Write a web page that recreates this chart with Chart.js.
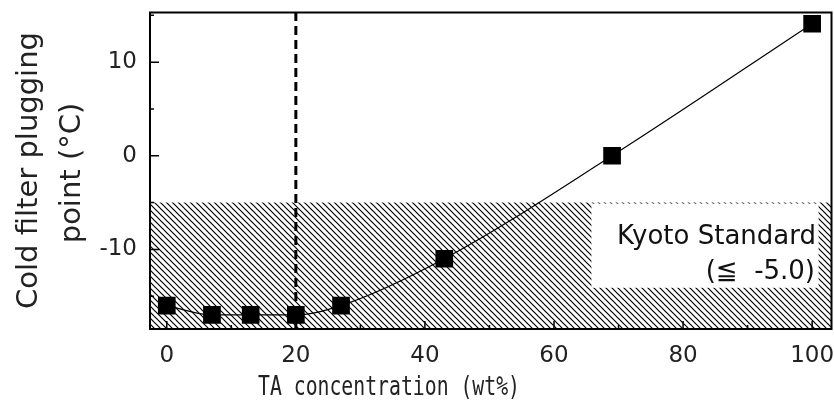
<!DOCTYPE html>
<html>
<head>
<meta charset="utf-8">
<script src="https://cdn.jsdelivr.net/npm/chart.js@4/dist/chart.umd.min.js"></script>
<style>
  html, body { margin: 0; padding: 0; background: #fff; overflow: hidden; }
  #wrap { width: 844px; height: 419px; }
</style>
</head>
<body>
<div id="wrap"><canvas id="cfpp"></canvas></div>
<script>
// TA concentration (wt%) vs cold filter plugging point (°C)
const taConc = [0, 7, 13, 20, 27, 43, 69, 100];
const cfpp = [-16, -17, -17, -17, -16, -11, 0, 14.1];

const xRange = [-2.6, 103];
const yRange = [-18.5, 15.3];
const kyotoLimit = -5.0;
const cutoffConc = 20;

const xTicks = [0, 20, 40, 60, 80, 100];
const yTicks = [-10, 0, 10];

function makeHatch() {
    const c = document.createElement('canvas');
    c.width = 6; c.height = 6;
    const g = c.getContext('2d');
    g.strokeStyle = '#000';
    g.lineWidth = 1.2;
    for (let k = -6; k <= 6; k += 6) {
        g.beginPath();
        g.moveTo(k - 1, -1);
        g.lineTo(k + 7, 7);
        g.stroke();
    }
    return g.createPattern(c, 'repeat');
}

function noPad(s) {
    s.paddingLeft = 0; s.paddingRight = 0; s.paddingTop = 0; s.paddingBottom = 0;
}

const framePlugin = {
    id: 'frame',
    afterDatasetsDraw(chart) {
        const ctx = chart.ctx;
        const a = chart.chartArea;
        const xs = chart.scales.x, ys = chart.scales.y;

        // white label box inside the hatched zone
        const bx0 = xs.getPixelForValue(65.8), bx1 = xs.getPixelForValue(101);
        const by0 = ys.getPixelForValue(kyotoLimit) + 1, by1 = ys.getPixelForValue(-14.1);
        ctx.save();
        ctx.fillStyle = '#fff';
        ctx.fillRect(bx0, by0, bx1 - bx0, by1 - by0);
        ctx.fillStyle = '#111';
        ctx.font = '26px "DejaVu Sans"';
        ctx.textAlign = 'right';
        ctx.textBaseline = 'alphabetic';
        ctx.fillText('Kyoto Standard', 816, 244);
        ctx.fillText('(\u2266  -5.0)', 815, 279);
        ctx.restore();

        // frame
        ctx.save();
        ctx.strokeStyle = '#000';
        ctx.lineWidth = 2;
        ctx.strokeRect(a.left, a.top, a.right - a.left, a.bottom - a.top);

        // inward ticks
        ctx.lineWidth = 1.5;
        ctx.beginPath();
        for (let v = 0; v <= 100; v += 10) {
            const px = xs.getPixelForValue(v);
            const len = v % 20 === 0 ? 8 : 4;
            ctx.moveTo(px, a.bottom);
            ctx.lineTo(px, a.bottom - len);
        }
        for (let v = -15; v <= 15; v += 5) {
            const py = ys.getPixelForValue(v);
            const len = v % 10 === 0 ? 9 : 4;
            ctx.moveTo(a.left, py);
            ctx.lineTo(a.left + len, py);
        }
        ctx.stroke();
        ctx.restore();
    },
    afterDraw(chart) {
        const ctx = chart.ctx;
        ctx.save();
        ctx.fillStyle = '#222';
        // y title, two rotated lines
        ctx.font = '29px "DejaVu Sans"';
        ctx.textAlign = 'center';
        ctx.textBaseline = 'alphabetic';
        ctx.save();
        ctx.translate(37, 170.5);
        ctx.rotate(-Math.PI / 2);
        ctx.fillText('Cold filter plugging', 0, 0);
        ctx.restore();
        ctx.save();
        ctx.translate(80, 173);
        ctx.rotate(-Math.PI / 2);
        ctx.fillText('point (\u00b0C)', 0, 0);
        ctx.restore();

        // x title, narrow monospace
        ctx.font = '27px "DejaVu Sans Mono"';
        const label = 'TA concentration (wt%)';
        const w = ctx.measureText(label).width;
        ctx.translate(389, 395);
        ctx.scale(262 / w, 1);
        ctx.fillText(label, 0, 0);
        ctx.restore();
    }
};

new Chart(document.getElementById('cfpp'), {
    type: 'line',
    data: {
        datasets: [
            {
                label: 'CFPP',
                data: taConc.map((x, i) => ({ x: x, y: cfpp[i] })),
                borderColor: '#000',
                borderWidth: 1.2,
                cubicInterpolationMode: 'monotone',
                pointStyle: 'rect',
                pointRadius: 12.5,
                pointBackgroundColor: '#000',
                pointBorderColor: '#000',
                pointBorderWidth: 0,
                fill: false,
                order: 1
            },
            {
                label: 'cutoff',
                data: [{ x: cutoffConc, y: yRange[0] }, { x: cutoffConc, y: yRange[1] }],
                borderColor: '#000',
                borderWidth: 3,
                borderDash: [9, 5],
                pointRadius: 0,
                fill: false,
                order: 2
            },
            {
                label: 'Kyoto',
                data: [{ x: xRange[0], y: kyotoLimit }, { x: xRange[1], y: kyotoLimit }],
                borderWidth: 0,
                pointRadius: 0,
                backgroundColor: makeHatch(),
                fill: 'start',
                order: 3
            }
        ]
    },
    options: {
        responsive: true,
        maintainAspectRatio: false,
        animation: false,
        layout: { padding: { top: 12, right: 2, left: 0, bottom: 0 } },
        plugins: {
            legend: { display: false },
            tooltip: { enabled: false }
        },
        scales: {
            x: {
                type: 'linear',
                min: xRange[0],
                max: xRange[1],
                afterFit: (s) => { s.height = 90; noPad(s); },
                afterBuildTicks: (s) => { s.ticks = xTicks.map(v => ({ value: v })); },
                grid: {
                    display: true,
                    drawOnChartArea: false,
                    drawTicks: true,
                    tickLength: 13,
                    color: 'rgba(0,0,0,0)'
                },
                border: { display: false },
                ticks: {
                    padding: 0,
                    color: '#222',
                    font: { family: 'DejaVu Sans', size: 23 }
                }
            },
            y: {
                type: 'linear',
                min: yRange[0],
                max: yRange[1],
                afterFit: (s) => { s.width = 150; noPad(s); },
                afterBuildTicks: (s) => { s.ticks = yTicks.map(v => ({ value: v })); },
                grid: { display: false, drawTicks: false },
                border: { display: false },
                ticks: {
                    padding: 13,
                    color: '#222',
                    font: { family: 'DejaVu Sans', size: 23 }
                }
            }
        }
    },
    plugins: [framePlugin]
});
</script>
</body>
</html>
